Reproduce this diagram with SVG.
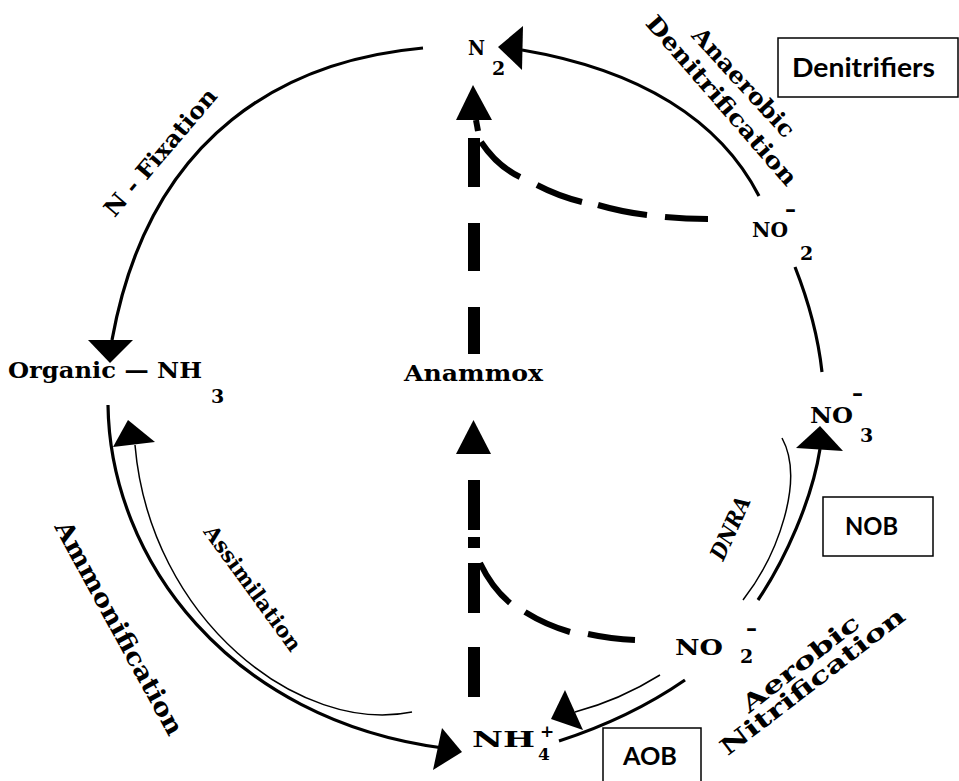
<svg xmlns="http://www.w3.org/2000/svg" width="959" height="781" viewBox="0 0 959 781">
<style>
.thick{fill:none;stroke:#000;stroke-width:3.2}
.thin{fill:none;stroke:#000;stroke-width:1.5}
.dashv{fill:none;stroke:#000;stroke-width:12;stroke-linecap:butt}
.dashc{fill:none;stroke:#000;stroke-width:6;stroke-linecap:butt}
.head{fill:#000;stroke:none}
.box{fill:#fff;stroke:#000;stroke-width:1.5}
.chem{font-family:"DejaVu Serif","Liberation Serif",serif;font-weight:bold;fill:#000}
.proc{font-family:"DejaVu Serif","Liberation Serif",serif;font-weight:bold;fill:#000}
.org{font-family:Lato,"Liberation Sans",sans-serif;font-weight:bold;fill:#000}
</style>
<rect width="959" height="781" fill="#fff"/>
<g id="connectors">
  <path class="thick" d="M423,48 C290,60 150,130 112,340"/>
  <polygon class="head" points="88,340 133,340 110,363"/>
  <path class="thick" d="M759,196 C720,120 640,70 522,50"/>
  <polygon class="head" points="498,47 523,26 522,70"/>
  <path class="thick" d="M795,267 C808,300 818,335 822,372"/>
  <path class="thick" d="M758,600 C785,560 812,500 820,449"/>
  <polygon class="head" points="820,426 796,448 843,451"/>
  <path class="thin" d="M743,600 C778,555 805,480 782,438"/>
  <path class="thick" d="M685,680 Q630,718 559,741"/>
  <path class="thin" d="M660,675 Q620,700 575,712"/>
  <polygon class="head" points="565,690 583,730 551,719"/>
  <path class="thick" d="M108,405 C110,560 230,720 443,748"/>
  <polygon class="head" points="462,752 442,728 433,770"/>
  <path class="thin" d="M412,712 C300,735 150,620 135,445"/>
  <polygon class="head" points="128,420 113,447 155,442"/>
  <path class="dashv" d="M474,697 V647 M474,613 V563 M474,548 V537 M474,530 V480"/>
  <polygon class="head" points="473.5,420 456,454 491,454"/>
  <path class="dashv" d="M474,354 V307 M474,271 V223 M474,187 V138"/>
  <path class="dashc" d="M476,120 L478,131"/>
  <polygon class="head" points="473,85 456,120 492,120"/>
  <path class="dashc" d="M481,142 Q497,166 520,177 M537,185 Q558,196 582,202 M598,205 Q622,212 647,215 M665,217 Q686,219 708,219"/>
  <path class="dashc" d="M480,563 Q492,588 510,603 M525,612 Q546,625 570,632 M588,634 Q611,639 635,640"/>
</g>
<g id="node-n2">
  <text class="chem" x="468" y="55" font-size="21" textLength="17" lengthAdjust="spacingAndGlyphs">N</text>
  <text class="chem" x="492" y="75" font-size="19">2</text>
</g>
<g id="node-organic">
  <text class="chem" x="8" y="378" font-size="22" textLength="194" lengthAdjust="spacingAndGlyphs">Organic — NH</text>
  <text class="chem" x="211" y="403" font-size="19">3</text>
</g>
<g id="node-anammox">
  <text class="chem" x="404" y="381" font-size="22" textLength="139" lengthAdjust="spacingAndGlyphs">Anammox</text>
</g>
<g id="node-no2-upper">
  <text class="chem" x="752" y="237" font-size="21" textLength="36" lengthAdjust="spacingAndGlyphs">NO</text>
  <text class="chem" x="785" y="217" font-size="22">–</text>
  <text class="chem" x="800" y="260" font-size="19">2</text>
</g>
<g id="node-no3">
  <text class="chem" x="810" y="423" font-size="23" textLength="43" lengthAdjust="spacingAndGlyphs">NO</text>
  <text class="chem" x="852" y="401" font-size="22">–</text>
  <text class="chem" x="860" y="442" font-size="19">3</text>
</g>
<g id="node-no2-lower">
  <text class="chem" x="675" y="655" font-size="23" textLength="48" lengthAdjust="spacingAndGlyphs">NO</text>
  <text class="chem" x="746" y="636" font-size="22">–</text>
  <text class="chem" x="740" y="663" font-size="19">2</text>
</g>
<g id="node-nh4">
  <text class="chem" x="472" y="747" font-size="23" textLength="63" lengthAdjust="spacingAndGlyphs">NH</text>
  <text class="chem" x="540" y="737" font-size="17">+</text>
  <text class="chem" x="538" y="760" font-size="17">4</text>
</g>
<g id="label-nfixation">
  <text class="proc" transform="translate(160,152) rotate(-49.5)" text-anchor="middle" dominant-baseline="central" font-size="23" textLength="160" lengthAdjust="spacingAndGlyphs">N - Fixation</text>
</g>
<g id="label-anaerobic">
  <text class="proc" transform="translate(744,82) rotate(47.5)" text-anchor="middle" dominant-baseline="central" font-size="23" textLength="140" lengthAdjust="spacingAndGlyphs">Anaerobic</text>
  <text class="proc" transform="translate(722,100) rotate(49)" text-anchor="middle" dominant-baseline="central" font-size="23" textLength="217" lengthAdjust="spacingAndGlyphs">Denitrification</text>
</g>
<g id="label-ammonification">
  <text class="proc" transform="translate(119,628) rotate(61.3)" text-anchor="middle" dominant-baseline="central" font-size="25" textLength="240" lengthAdjust="spacingAndGlyphs">Ammonification</text>
</g>
<g id="label-assimilation">
  <text class="proc" transform="translate(253,588) rotate(54)" text-anchor="middle" dominant-baseline="central" font-size="21" textLength="150" lengthAdjust="spacingAndGlyphs">Assimilation</text>
</g>
<g id="label-dnra">
  <text class="proc" transform="translate(730,528) rotate(-65.4)" text-anchor="middle" dominant-baseline="central" font-size="22" font-style="italic" textLength="67" lengthAdjust="spacingAndGlyphs">DNRA</text>
</g>
<g id="label-aerobic">
  <text class="proc" transform="translate(800,663) rotate(-38)" text-anchor="middle" dominant-baseline="central" font-size="23" textLength="143" lengthAdjust="spacingAndGlyphs">Aerobic</text>
  <text class="proc" transform="translate(812,681) rotate(-37.5)" text-anchor="middle" dominant-baseline="central" font-size="23" textLength="226" lengthAdjust="spacingAndGlyphs">Nitrification</text>
</g>
<g id="box-denitrifiers">
  <rect class="box" x="778" y="38" width="180" height="59"/>
  <text class="org" x="863.5" y="77" font-size="26" text-anchor="middle" textLength="143" lengthAdjust="spacingAndGlyphs">Denitrifiers</text>
</g>
<g id="box-nob">
  <rect class="box" x="823" y="497" width="110" height="59"/>
  <text class="org" x="871.5" y="535" font-size="24" text-anchor="middle" textLength="53" lengthAdjust="spacingAndGlyphs">NOB</text>
</g>
<g id="box-aob">
  <rect class="box" x="603" y="728" width="98" height="60"/>
  <text class="org" x="650" y="765" font-size="24" text-anchor="middle" textLength="54" lengthAdjust="spacingAndGlyphs">AOB</text>
</g>
</svg>
